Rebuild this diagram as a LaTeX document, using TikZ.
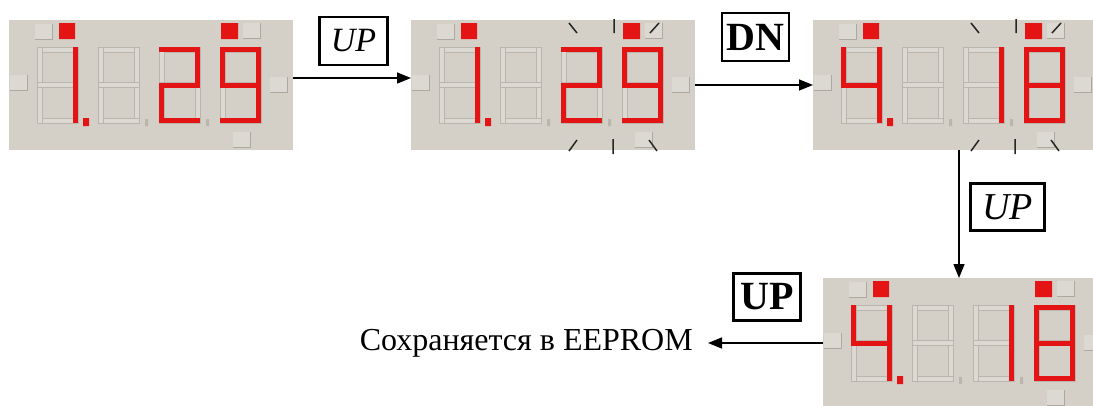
\documentclass[tikz,border=0pt]{standalone}
\usepackage{fontspec}
\setmainfont{Liberation Serif}
\usetikzlibrary{arrows.meta}

\definecolor{panelgray}{HTML}{D4D0C8}
\definecolor{ghostline}{HTML}{BAB6AE}
\definecolor{ghostfill}{HTML}{DCD9D2}
\definecolor{segred}{HTML}{E41414}
\definecolor{boxshadow}{HTML}{ADA9A1}

\newcommand{\segA}{(0,0) rectangle (41,5)}
\newcommand{\segB}{(36,0) rectangle (41,38.5)}
\newcommand{\segC}{(36,37.5) rectangle (41,76)}
\newcommand{\segD}{(0,71) rectangle (41,76)}
\newcommand{\segE}{(0,37.5) rectangle (5,76)}
\newcommand{\segF}{(0,0) rectangle (5,38.5)}
\newcommand{\segG}{(0,35.5) rectangle (41,40.5)}

\newcommand{\ghostdigit}[2]{%
  \begin{scope}[shift={(#1,#2)}]
    \foreach \s in {A,B,C,D,E,F,G} \draw[ghost] \csname seg\s\endcsname;
  \end{scope}}
\newcommand{\segdigit}[3]{%
  \ghostdigit{#1}{#2}
  \begin{scope}[shift={(#1,#2)}]
    \foreach \s in {#3} \fill[lit] \csname seg\s\endcsname;
  \end{scope}}

\newcommand{\readout}[3]{%
  \foreach \bx/\by in {1/55, 261/57, 26/4, 234/3, 224/112} {
    \fill[ghostfill] (\bx,\by) rectangle ++(17,15);
    \draw[draw=boxshadow, line width=0.8pt] (\bx,\by+15) -- ++(17,0) -- ++(0,-15);
  }
  \segdigit{28}{27}{#1}
  \ghostdigit{89}{27}
  \segdigit{150}{27}{#2}
  \segdigit{211}{27}{#3}
  \fill[ghostline] (136,99) rectangle (139,106) (197,99) rectangle (200,106);
  \fill[segred] (74,98) rectangle (80,106) (50,3) rectangle (66,19) (212,3) rectangle (229,19);
}

\newcommand{\blinkmarks}{%
  \draw[blink] (158,3) -- (166,13) (203,-1) -- (203,13) (248,3) -- (239,13)
    (166,120) -- (158,131) (202,119) -- (202,134) (238,120) -- (246,131);}

\tikzset{
  panel/.style={fill=panelgray, minimum width=284pt, minimum height=130pt, inner sep=0pt, outer sep=0pt, anchor=north west},
  ghost/.style={draw=ghostline, fill=ghostfill, line width=0.6pt},
  lit/.style={fill=segred},
  blink/.style={draw=black!85, line width=1.5pt},
  flow/.style={-{Triangle[length=14pt,width=11pt]}, line width=1.5pt},
  key/.style={draw, line width=2.6pt, inner sep=0pt}
}

\begin{document}
\begin{tikzpicture}[x=1pt, y=-1pt]
\useasboundingbox (0,0) rectangle (1093,405);
\clip (0,0) rectangle (1093,405);

\node[panel] (d1) at (9,20) {};
\node[panel] (d2) at (411,20) {};
\node[panel] (d3) at (813,20) {};
\node[panel] (d4) at (823,278) {};

\begin{scope}[shift={(d1.north west)}]
\readout{B,C}{A,B,G,E,D}{A,B,C,D,F,G}
\end{scope}
\begin{scope}[shift={(d2.north west)}]
\readout{B,C}{A,B,G,E,D}{A,B,C,D,F,G}
\blinkmarks
\end{scope}
\begin{scope}[shift={(d3.north west)}]
\readout{F,B,G,C}{B,C}{A,B,C,D,E,F,G}
\blinkmarks
\end{scope}
\begin{scope}[shift={(d4.north west)}]
\readout{F,B,G,C}{B,C}{A,B,C,D,E,F,G}
\end{scope}

\node[key, minimum width=68pt, minimum height=48pt, font=\fontsize{34}{40}\selectfont\itshape] (k1) at (353.5,41) {UP};
\node[key, minimum width=67pt, minimum height=48pt, font=\fontsize{40}{46}\selectfont\bfseries] (k2) at (755.5,37) {DN};
\node[key, minimum width=74pt, minimum height=47pt, font=\fontsize{38}{44}\selectfont\itshape] (k3) at (1007.5,207) {UP};
\node[key, minimum width=67pt, minimum height=47pt, font=\fontsize{40}{46}\selectfont\bfseries] (k4) at (767,297) {UP};
\node[anchor=east, inner xsep=15pt, inner ysep=0pt, font=\fontsize{32}{38}\selectfont] (save) at (708,343) {Сохраняется в EEPROM};

\draw[flow] ([yshift=7pt]d1.east) -- ([yshift=7pt]d2.west);
\draw[flow] (d2.east) -- (d3.west);
\draw[flow] ([xshift=4pt]d3.south) -- ([xshift=-6pt]d4.north);
\draw[flow] (d4.west) -- (save.east);
\end{tikzpicture}
\end{document}
